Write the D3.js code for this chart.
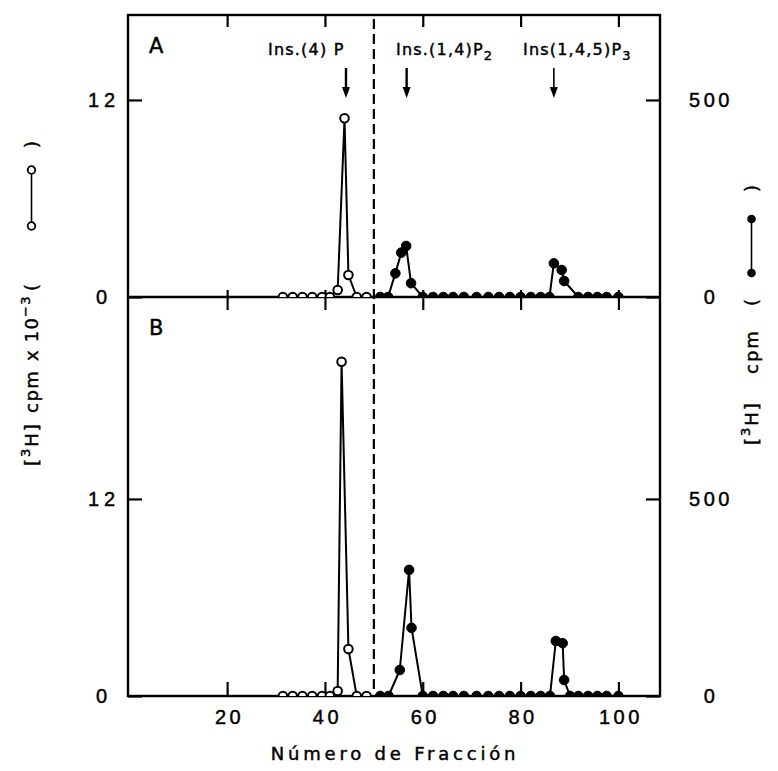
<!DOCTYPE html>
<html>
<head>
<meta charset="utf-8">
<script src="https://cdn.jsdelivr.net/npm/d3@7/dist/d3.min.js"></script>
<style>
  html, body { margin: 0; padding: 0; background: #fff; }
  svg { display: block; font-family: "DejaVu Sans", "Liberation Sans", sans-serif; }
  text { fill: #000; stroke: #000; stroke-width: 0.45px; }
</style>
</head>
<body>
<svg id="chart" width="778" height="771"></svg>
<script>
// ---------------- data ----------------
const xTicks = [20, 40, 60, 80, 100];
const leftTicks = [0, 12];          // [3H] cpm x 10^-3
const rightTicks = [0, 500];        // [3H] cpm

// Panel A – open circles (cpm x 10^-3)
const fracOpenA = [31.4, 33.4, 35.4, 37.4, 39.4, 41.0, 42.6, 44.0, 44.8, 46.5, 48.5];
const openA     = [0, 0, 0, 0, 0, 0, 0.43, 10.88, 1.34, 0, 0];
// Panel A – filled circles (cpm)
const fracFilledA = [51.3, 52.9, 54.4, 55.6, 56.6, 57.6, 60.0, 62.1, 64.2, 66.2, 68.4, 71.0, 73.4, 75.6, 77.8, 80.0, 82.1, 84.1, 85.9, 86.8, 88.4, 88.9, 91.8, 93.8, 95.7, 97.6, 100.0];
const filledA     = [0, 0, 60, 112.5, 129.5, 35, 0, 0, 0, 0, 0, 0, 0, 0, 0, 0, 0, 0, 0, 85.5, 68.5, 40.6, 0, 0, 0, 0, 0];

// Panel B – open circles (cpm x 10^-3)
const fracOpenB = [31.4, 33.4, 35.4, 37.4, 39.4, 41.0, 42.6, 43.4, 44.8, 46.5, 48.5];
const openB     = [0, 0, 0, 0, 0, 0, 0.3, 20.36, 2.86, 0, 0];
// Panel B – filled circles (cpm)
const fracFilledB = [51.3, 53.0, 55.3, 57.2, 57.7, 60.0, 62.1, 64.2, 66.2, 68.4, 71.0, 73.4, 75.6, 77.8, 80.0, 82.1, 84.1, 86.0, 87.2, 88.6, 88.9, 90.1, 91.8, 93.8, 95.7, 97.6, 100.0];
const filledB     = [0, 0, 66, 320, 173, 0, 0, 0, 0, 0, 0, 0, 0, 0, 0, 0, 0, 0, 139.6, 134, 40.6, 0, 0, 0, 0, 0, 0];

const dashedFraction = 50;
const markers = [
  { label: "Ins.(4) P", sub: "", at: 44.3, textStart: 268 },
  { label: "Ins.(1,4)P", sub: "2", at: 56.7, textStart: 396 },
  { label: "Ins(1,4,5)P", sub: "3", at: 86.8, textStart: 523 }
];

// ---------------- layout ----------------
const L = 128, R = 660, T = 15, M = 297, B = 696;
const svg = d3.select("#chart");

const x = d3.scaleLinear().domain([0, 108.5]).range([129.3, R]);
const unitPx = 16.42;                       // px per 1 (x10^3 cpm)
const yA = d3.scaleLinear().domain([0, (M - T) / unitPx]).range([M, T]);
const yB = d3.scaleLinear().domain([0, (B - M) / unitPx]).range([B, M]);
const yAR = d3.scaleLinear().domain([0, (M - T) / unitPx * 500 / 12]).range([M, T]);
const yBR = d3.scaleLinear().domain([0, (B - M) / unitPx * 500 / 12]).range([B, M]);

// clip paths for panels
const defs = svg.append("defs");
defs.append("clipPath").attr("id", "clipA").append("rect")
  .attr("x", L).attr("y", T).attr("width", R - L).attr("height", M - T);
defs.append("clipPath").attr("id", "clipB").append("rect")
  .attr("x", L).attr("y", M).attr("width", R - L).attr("height", B - M);

// ---------------- frame ----------------
svg.append("rect").attr("x", L).attr("y", T).attr("width", R - L).attr("height", B - T)
  .attr("fill", "none").attr("stroke", "#000").attr("stroke-width", 2.4);
svg.append("line").attr("x1", L).attr("x2", R).attr("y1", M).attr("y2", M)
  .attr("stroke", "#000").attr("stroke-width", 2.4);

// dashed line
svg.append("line")
  .attr("x1", x(dashedFraction)).attr("x2", x(dashedFraction))
  .attr("y1", T + 4).attr("y2", B - 2)
  .attr("stroke", "#000").attr("stroke-width", 2.2).attr("stroke-dasharray", "10,5");

// ---------------- axes ----------------
function styleAxis(g) {
  g.select(".domain").remove();
  g.selectAll(".tick line").attr("stroke", "#000").attr("stroke-width", 2.2);
  g.selectAll(".tick text").attr("font-size", 20).attr("letter-spacing", 3.5);
}

// bottom x axis (ticks inward)
svg.append("g").attr("transform", `translate(0,${B})`)
  .call(d3.axisBottom(x).tickValues(xTicks).tickSize(-14).tickPadding(14))
  .call(styleAxis)
  .selectAll(".tick text").attr("dx", 2);

// top axis ticks
svg.append("g").attr("transform", `translate(0,${T})`)
  .call(d3.axisTop(x).tickValues(xTicks).tickSize(-12).tickFormat(""))
  .call(styleAxis);

// middle ticks (crossing the divider)
svg.append("g").attr("transform", `translate(0,${M})`)
  .call(d3.axisBottom(x).tickValues(xTicks).tickSize(13).tickFormat(""))
  .call(styleAxis);
svg.append("g").attr("transform", `translate(0,${M})`)
  .call(d3.axisTop(x).tickValues(xTicks).tickSize(7).tickFormat(""))
  .call(styleAxis);

// left axes
function leftAxis(scale) {
  const g = svg.append("g").attr("transform", `translate(${L},0)`)
    .call(d3.axisLeft(scale).tickValues(leftTicks).tickSize(-14).tickPadding(26))
    .call(styleAxis);
  g.selectAll(".tick text").attr("text-anchor", "middle").attr("letter-spacing", 5).attr("dx", 2);
}
leftAxis(yA);
leftAxis(yB);

// right axes
function rightAxis(scale) {
  const g = svg.append("g").attr("transform", `translate(${R},0)`)
    .call(d3.axisRight(scale).tickValues(rightTicks).tickSize(-14).tickPadding(49))
    .call(styleAxis);
  g.selectAll(".tick text").attr("text-anchor", "middle").attr("letter-spacing", 3.5).attr("dx", 2);
}
rightAxis(yAR);
rightAxis(yBR);

// ---------------- data marks ----------------
function series(clip, xs, ys, yScale, filled) {
  const pts = xs.map((f, i) => [f, ys[i]]);
  const g = svg.append("g").attr("clip-path", `url(#${clip})`);
  g.append("path")
    .attr("d", d3.line().x(d => x(d[0])).y(d => yScale(d[1]))(pts))
    .attr("fill", "none").attr("stroke", "#000").attr("stroke-width", 2)
    .attr("stroke-linejoin", "round");
  g.selectAll("circle").data(pts).join("circle")
    .attr("cx", d => x(d[0])).attr("cy", d => yScale(d[1]))
    .attr("r", filled ? 4.8 : 4.3)
    .attr("fill", filled ? "#000" : "#fff")
    .attr("stroke", "#000").attr("stroke-width", filled ? 1 : 2);
}
series("clipA", fracOpenA, openA, yA, false);
series("clipA", fracFilledA, filledA, yAR, true);
series("clipB", fracOpenB, openB, yB, false);
series("clipB", fracFilledB, filledB, yBR, true);

// ---------------- panel letters ----------------
svg.append("text").attr("x", 149).attr("y", 53).text("A").attr("font-size", 21);
svg.append("text").attr("x", 149).attr("y", 335).text("B").attr("font-size", 21);

// ---------------- peak markers ----------------
markers.forEach((m, i) => {
  const t = svg.append("text").attr("x", m.textStart).attr("y", 55)
    .attr("font-size", 16).attr("letter-spacing", 1.2);
  t.append("tspan").text(m.label);
  if (m.sub) t.append("tspan").attr("dy", 5).attr("font-size", 13).text(m.sub);
  const ax = x(m.at);
  const sw = i === 2 ? 1.6 : 2.4;
  svg.append("line").attr("x1", ax).attr("x2", ax).attr("y1", 68).attr("y2", 92)
    .attr("stroke", "#000").attr("stroke-width", sw);
  svg.append("path")
    .attr("d", `M${ax - 4},${87} L${ax + 4},${87} L${ax},${98} Z`)
    .attr("fill", "#000");
});

// ---------------- axis titles ----------------
function titlePiece(g, u, parts, ls) {
  const t = g.append("text").attr("x", u).attr("y", 0).attr("font-size", 18)
    .attr("letter-spacing", ls === undefined ? 2 : ls);
  parts.forEach(p => {
    const s = t.append("tspan").text(p[0]);
    if (p[1] === "sup") s.attr("dy", -8).attr("font-size", 13);
    if (p[1] === "base") s.attr("dy", 8);
  });
  return t;
}

// left title (rotated)
const lt = svg.append("g").attr("transform", "translate(38,0) rotate(-90)");
titlePiece(lt, -466, [["["], ["3", "sup"], ["H]", "base"]]);
titlePiece(lt, -413, [["cpm"]], 1.5);
titlePiece(lt, -361, [["x 10"], ["−3", "sup"]], 1.2);
titlePiece(lt, -291, [["("]]);
lt.append("line").attr("x1", -226).attr("x2", -170).attr("y1", -6.5).attr("y2", -6.5)
  .attr("stroke", "#000").attr("stroke-width", 1.6);
lt.append("circle").attr("cx", -226).attr("cy", -6.5).attr("r", 3.8)
  .attr("fill", "#fff").attr("stroke", "#000").attr("stroke-width", 1.8);
lt.append("circle").attr("cx", -170).attr("cy", -6.5).attr("r", 3.8)
  .attr("fill", "#fff").attr("stroke", "#000").attr("stroke-width", 1.8);
titlePiece(lt, -148, [[")"]]);

// right title (rotated)
const rt = svg.append("g").attr("transform", "translate(758,0) rotate(-90)");
titlePiece(rt, -445, [["["], ["3", "sup"], ["H]", "base"]]);
titlePiece(rt, -374, [["cpm"]]);
titlePiece(rt, -306, [["("]]);
rt.append("line").attr("x1", -273).attr("x2", -219).attr("y1", -6.5).attr("y2", -6.5)
  .attr("stroke", "#000").attr("stroke-width", 1.6);
rt.append("circle").attr("cx", -273).attr("cy", -6.5).attr("r", 4.3).attr("fill", "#000");
rt.append("circle").attr("cx", -219).attr("cy", -6.5).attr("r", 4.3).attr("fill", "#000");
titlePiece(rt, -192, [[")"]]);

// x axis title
svg.append("text").attr("x", 395).attr("y", 760).attr("text-anchor", "middle")
  .attr("font-size", 18).attr("letter-spacing", 3.8)
  .text("Número de Fracción");
</script>
</body>
</html>
